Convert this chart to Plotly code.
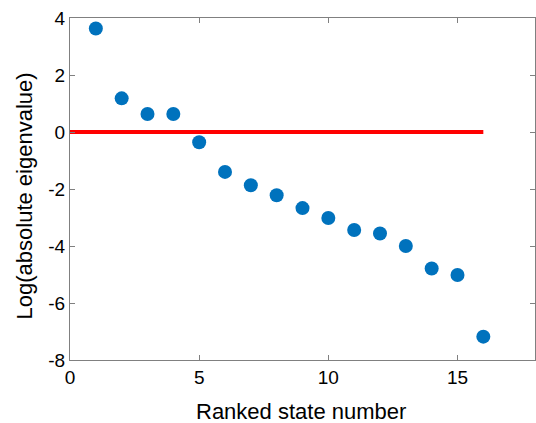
import plotly.graph_objects as go

rank = list(range(1, 17))
log_eig = [3.63, 1.18, 0.63, 0.63, -0.36, -1.40, -1.87, -2.22, -2.67, -3.02,
           -3.44, -3.56, -4.00, -4.79, -5.02, -7.18]
line_x = [0, 16]
line_y = [0, 0]
xticks = [0, 5, 10, 15]
yticks = [-8, -6, -4, -2, 0, 2, 4]
x_title = "Ranked state number"
y_title = "Log(absolute eigenvalue)"

FONT = "Liberation Sans, Arial"
fig = go.Figure()
fig.add_trace(go.Scatter(x=line_x, y=line_y, mode="lines",
                         line=dict(color="#FF0000", width=4), showlegend=False))
fig.add_trace(go.Scatter(x=rank, y=log_eig, mode="markers",
                         marker=dict(color="#0072BD", size=14, line=dict(width=0)),
                         showlegend=False))

axis_common = dict(showline=True, linecolor="#808080", linewidth=1, mirror="ticks",
                   ticks="inside", ticklen=5, tickcolor="#808080", showgrid=False,
                   zeroline=False, tickfont=dict(family=FONT, size=19, color="black"))
fig.update_xaxes(range=[0, 18], tickvals=xticks, ticktext=[str(v) for v in xticks], **axis_common)
fig.update_yaxes(range=[-8, 4], tickvals=yticks, ticktext=[str(v) for v in yticks], **axis_common)
fig.add_annotation(text=x_title, xref="paper", yref="paper", x=0.4957, y=-0.152,
                   xanchor="center", yanchor="middle", showarrow=False,
                   font=dict(family=FONT, size=22, color="black"))
fig.add_annotation(text=y_title, xref="paper", yref="paper", x=-0.0968, y=0.481,
                   xanchor="center", yanchor="middle", showarrow=False, textangle=-90,
                   font=dict(family=FONT, size=22, color="black"))
fig.update_layout(width=536, height=423, margin=dict(l=70, r=1, t=18, b=63),
                  plot_bgcolor="white", paper_bgcolor="white")
fig.write_html("out.html")
